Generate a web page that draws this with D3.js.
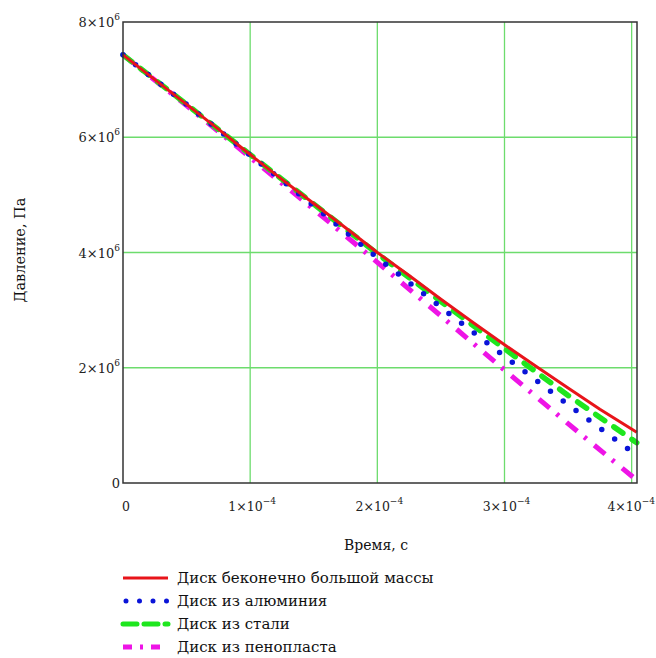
<!DOCTYPE html>
<html>
<head>
<meta charset="utf-8">
<script src="https://cdn.jsdelivr.net/npm/d3@7"></script>
<style>
  body { margin: 0; background: #fff; }
</style>
</head>
<body>
<svg id="chart" width="656" height="658"></svg>
<script>
// time values, units of 1e-4 s
const tRed = [0, 0.25, 0.5, 0.75, 1, 1.25, 1.5, 1.75, 2, 2.25, 2.5, 2.75, 3, 3.25, 3.5, 3.75, 4.04];
// pressure, units of 1e6 Pa
const pRed = [7.43, 7.00, 6.57, 6.14, 5.70, 5.27, 4.85, 4.43, 4.00, 3.60, 3.19, 2.79, 2.40, 2.02, 1.65, 1.28, 0.88];

const tOther = [0, 0.5, 1, 1.5, 2, 2.5, 3, 3.5, 4.04];
const pSteel = [7.43, 6.57, 5.70, 4.84, 3.98, 3.15, 2.33, 1.52, 0.70];
const pAlum  = [7.43, 6.57, 5.69, 4.81, 3.91, 3.05, 2.20, 1.36, 0.48];
const pFoam  = [7.43, 6.55, 5.65, 4.75, 3.83, 2.90, 1.96, 1.03, 0.05];

const xTicks = [0, 1, 2, 3, 4];
const yTicks = [0, 2, 4, 6, 8];

const legendNames = [
  "Диск беконечно большой массы",
  "Диск из алюминия",
  "Диск из стали",
  "Диск из пенопласта"
];

const serif = "'DejaVu Serif', 'Liberation Serif', serif";

const svg = d3.select("#chart")
  .style("font-family", serif);
const plot = { left: 123, right: 637, top: 22, bottom: 483 };

const x = d3.scaleLinear().domain([0, 4.042]).range([plot.left, plot.right]);
const y = d3.scaleLinear().domain([0, 8]).range([plot.bottom, plot.top]);

const gridColor = "#6ddc6d";

// grid
svg.append("g")
  .selectAll("line")
  .data(xTicks.filter(d => d > 0))
  .enter().append("line")
  .attr("x1", d => x(d)).attr("x2", d => x(d))
  .attr("y1", plot.top).attr("y2", plot.bottom)
  .attr("stroke", gridColor).attr("stroke-width", 1.3);

svg.append("g")
  .selectAll("line")
  .data(yTicks.filter(d => d > 0 && d < 8))
  .enter().append("line")
  .attr("x1", plot.left).attr("x2", plot.right)
  .attr("y1", d => y(d)).attr("y2", d => y(d))
  .attr("stroke", gridColor).attr("stroke-width", 1.3);

// series
const series = [
  { t: tRed, p: pRed, color: "#e8141a", width: 3, dash: null, cap: "butt" },
  { t: tOther, p: pAlum, color: "#0a14d8", width: 5.5, dash: "0 16", cap: "round" },
  { t: tOther, p: pSteel, color: "#1ee61e", width: 5.5, dash: "11 11", cap: "round" },
  { t: tOther, p: pFoam, color: "#ee14e6", width: 5, dash: "14 9 3 10", cap: "butt" }
];

const line = d3.line()
  .x(d => x(d[0]))
  .y(d => y(d[1]));

// draw red last so it stays visible on top
[3, 2, 1, 0].forEach(i => {
  const s = series[i];
  svg.append("path")
    .datum(s.t.map((t, j) => [t, s.p[j]]))
    .attr("d", line)
    .attr("fill", "none")
    .attr("stroke", s.color)
    .attr("stroke-width", s.width)
    .attr("stroke-linecap", s.cap)
    .attr("stroke-dasharray", s.dash);
});

// frame
svg.append("rect")
  .attr("x", plot.left).attr("y", plot.top)
  .attr("width", plot.right - plot.left).attr("height", plot.bottom - plot.top)
  .attr("fill", "none").attr("stroke", "#333").attr("stroke-width", 1.5);

// y tick labels
yTicks.forEach(v => {
  const t = svg.append("text")
    .attr("x", plot.left - 3)
    .attr("y", y(v) + 5)
    .attr("text-anchor", "end")
    .attr("font-size", 13)
    .attr("fill", "#222");
  if (v === 0) {
    t.text("0");
  } else {
    t.append("tspan").text(v + "×10");
    t.append("tspan").attr("dy", -7).attr("font-size", 9).text("6");
  }
});

// x tick labels
xTicks.forEach(v => {
  const last = v === xTicks[xTicks.length - 1];
  const t = svg.append("text")
    .attr("x", last ? 655 : x(v) + (v === 0 ? 3 : 2))
    .attr("y", 511)
    .attr("text-anchor", last ? "end" : "middle")
    .attr("font-size", 12.5)
    .attr("fill", "#222");
  if (v === 0) {
    t.text("0");
  } else {
    t.append("tspan").text(v + "×10");
    t.append("tspan").attr("dy", -7).attr("font-size", 9).text("−4");
  }
});

// axis titles
svg.append("text")
  .attr("x", 376).attr("y", 550)
  .attr("text-anchor", "middle")
  .attr("font-size", 14)
  .attr("fill", "#111")
  .text("Время, с");

svg.append("text")
  .attr("transform", "translate(25,250) rotate(-90)")
  .attr("text-anchor", "middle")
  .attr("font-size", 14.5)
  .attr("fill", "#111")
  .text("Давление, Па");

// legend
const legendDash = [null, "0 13.5", "14 7", "9 8 3 8"];
const lg = svg.append("g");
legendNames.forEach((name, i) => {
  const s = series[i];
  const cy = 578 + i * 23;
  lg.append("line")
    .attr("x1", i === 1 ? 126 : 123).attr("x2", 168)
    .attr("y1", cy).attr("y2", cy)
    .attr("stroke", s.color)
    .attr("stroke-width", i === 0 ? 3 : 5)
    .attr("stroke-linecap", s.cap)
    .attr("stroke-dasharray", legendDash[i]);
  lg.append("text")
    .attr("x", 177).attr("y", cy + 5)
    .attr("font-size", 15)
    .attr("fill", "#111")
    .text(name);
});
</script>
</body>
</html>
